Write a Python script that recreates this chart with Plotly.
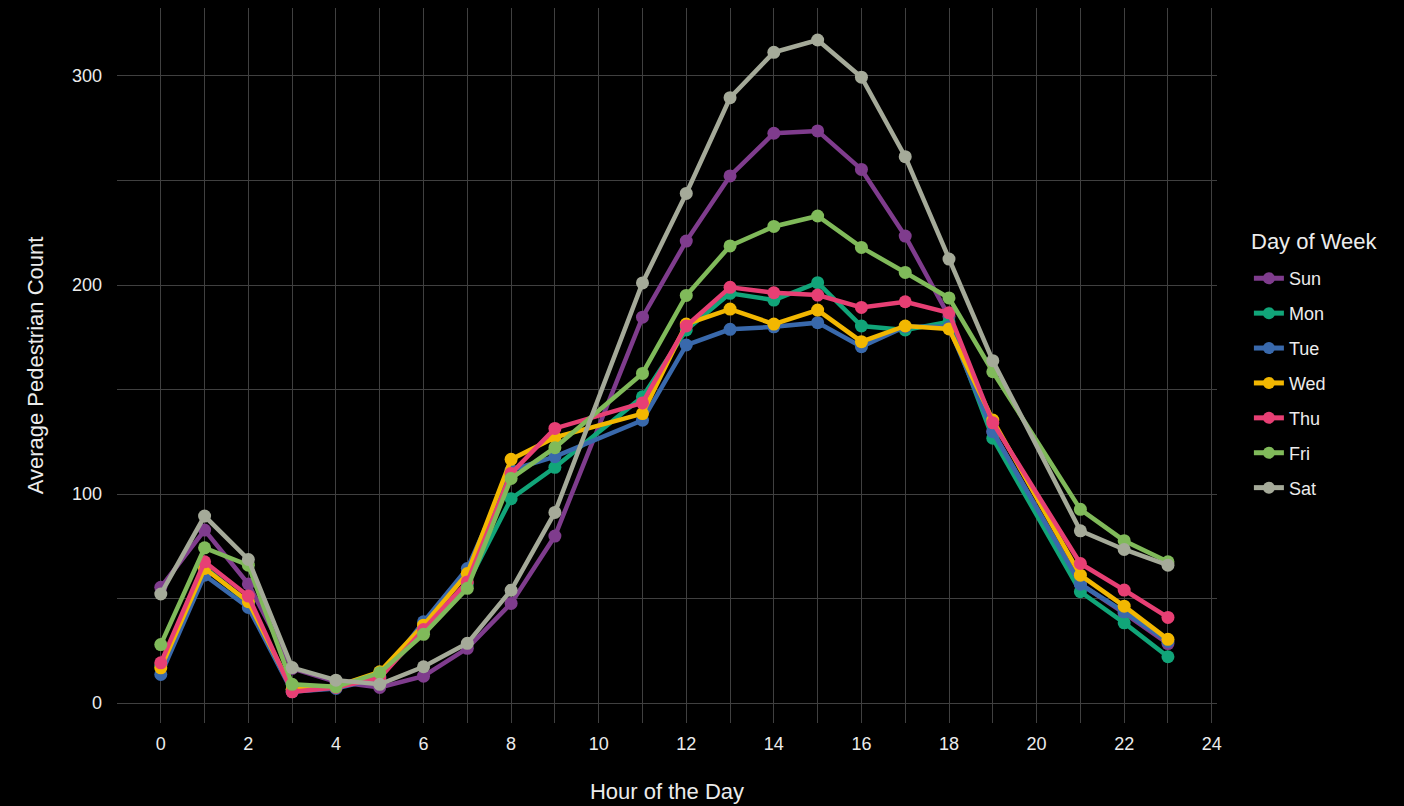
import plotly.graph_objects as go

hours = [0, 1, 2, 3, 4, 5, 6, 7, 8, 9, 11, 12, 13, 14, 15, 16, 17, 18, 19, 21, 22, 23]

sun = [55.4, 82.8, 57, 16.6, 10.2, 7.5, 12.9, 26.2, 47.7, 79.9, 184.6, 221, 252.2, 272.6, 273.7, 255.3, 223.4, 185, 130, 57, 43, 28.5]
mon = [18, 65, 48, 6.5, 7.5, 13, 34, 57, 97.8, 112.8, 146.5, 178.5, 196, 192.8, 201.1, 180.4, 178.5, 182.4, 126.7, 53.3, 38.4, 22.2]
tue = [13.7, 61.2, 45.8, 5.5, 7, 12, 38.9, 64.4, 111.5, 117.9, 135.3, 171.3, 178.8, 180, 182, 170.5, 180, 180, 129.8, 56.9, 43.7, 29.5]
wed = [16.9, 64.4, 48.5, 6.5, 8, 15, 37.3, 62, 116.6, 127.1, 138.5, 181.3, 188.5, 181.3, 188, 172.9, 180.4, 179, 135.4, 61.2, 46.4, 30.5]
thu = [19.3, 67.6, 51.2, 5.4, 7.5, 12, 35.2, 58, 109.9, 131.4, 143.6, 180.4, 198.9, 196.3, 195.2, 189.3, 192, 186.7, 134.1, 66.8, 54.1, 41]
fri = [28, 74.3, 66, 9, 7.8, 14.5, 32.9, 54.9, 107.5, 122.2, 157.7, 195, 218.7, 228, 233, 218, 206, 193.8, 158.5, 92.7, 77.7, 67.6]
sat = [52.2, 89.5, 68.7, 17, 11, 9, 17.4, 28.6, 54, 91.2, 201, 243.8, 289.6, 311.3, 317.2, 299.4, 261.4, 212.4, 163.8, 82.4, 73.5, 66]

days = ["Sun", "Mon", "Tue", "Wed", "Thu", "Fri", "Sat"]
series = [sun, mon, tue, wed, thu, fri, sat]
colors = ["#7F3C8D", "#11A579", "#3969AC", "#F2B701", "#E73F74", "#80BA5A", "#A5AA99"]

x_ticks = list(range(0, 25, 2))
y_ticks = [0, 100, 200, 300]

fig = go.Figure()
for name, vals, col in zip(days, series, colors):
    fig.add_trace(go.Scatter(
        x=hours, y=vals, name=name, legendgroup=name, mode="lines+markers",
        line=dict(color=col, width=4.5),
        marker=dict(color=col, size=13),
    ))

grid_col = "#404040"
txt = "#ececec"
fig.update_layout(
    width=1404, height=806,
    paper_bgcolor="black", plot_bgcolor="black",
    font=dict(family="Liberation Sans, Arial, sans-serif", color=txt, size=18),
    margin=dict(l=117, r=187, t=8, b=83),
    legend=dict(
        font=dict(size=18, color=txt),
        x=1.029, xanchor="left", y=0.6475, yanchor="top",
        bgcolor="rgba(0,0,0,0)", traceorder="grouped", tracegroupgap=8.5,
        itemsizing="constant",
    ),
    annotations=[dict(
        text="Day of Week", xref="paper", yref="paper", x=1.029, y=0.674,
        xanchor="left", yanchor="middle", showarrow=False,
        font=dict(size=22, color=txt),
    )],
    xaxis=dict(
        title=dict(text="Hour of the Day", font=dict(size=22, color=txt), standoff=30),
        range=[-1, 24.12], tickvals=x_ticks, ticktext=[str(v) for v in x_ticks],
        showgrid=True, gridcolor=grid_col, gridwidth=1,
        minor=dict(dtick=1, tick0=0, showgrid=True, gridcolor=grid_col, gridwidth=1),
        zeroline=False, showline=False, ticks="", tickfont=dict(size=18, color=txt),
        ticklabelstandoff=8,
    ),
    yaxis=dict(
        title=dict(text="Average Pedestrian Count", font=dict(size=22, color=txt), standoff=22),
        range=[-9.5, 332.5], tickvals=y_ticks, ticktext=[str(v) for v in y_ticks],
        showgrid=True, gridcolor=grid_col, gridwidth=1,
        minor=dict(dtick=50, tick0=0, showgrid=True, gridcolor=grid_col, gridwidth=1),
        zeroline=False, showline=False, ticks="", tickfont=dict(size=18, color=txt),
        ticklabelstandoff=14,
    ),
)

fig.write_html(
    "out.html",
    config={"displayModeBar": False},
    post_script="document.body.style.margin='0';document.body.style.background='black';",
)
